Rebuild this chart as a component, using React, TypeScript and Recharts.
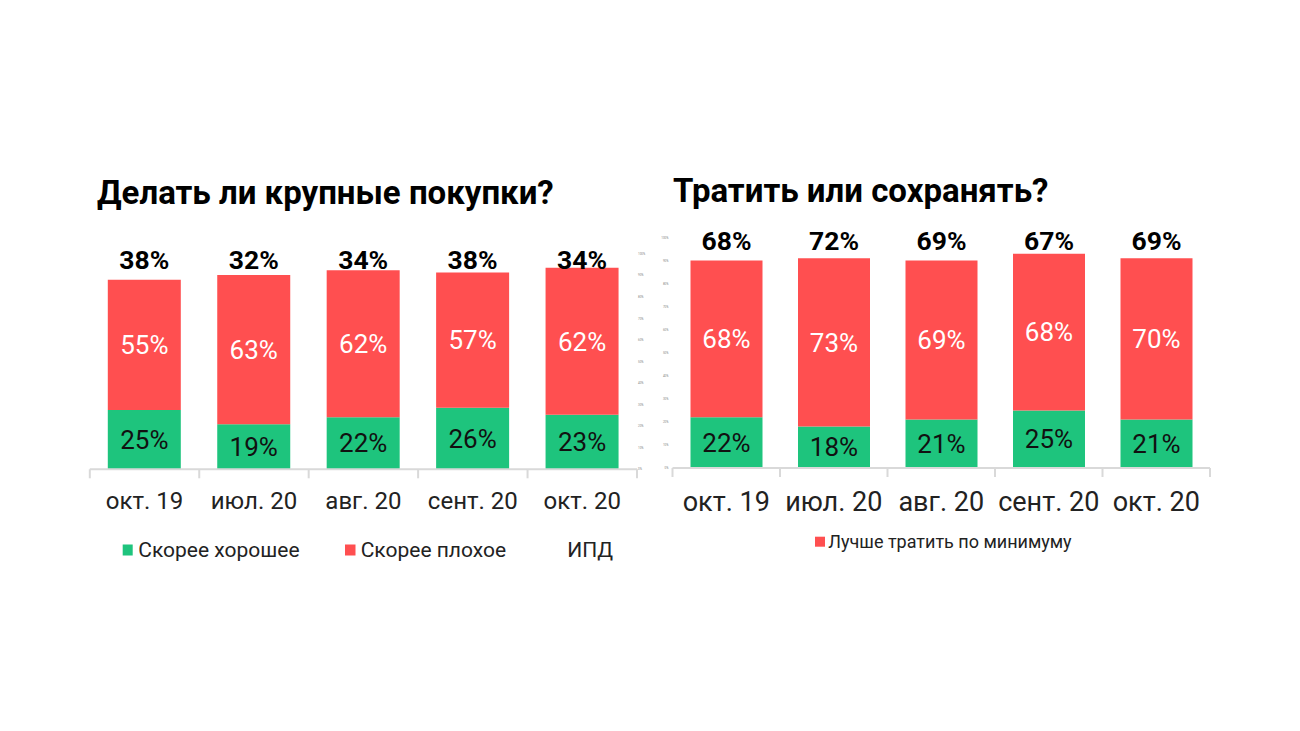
import React from 'react';
import { ComposedChart, Bar, Line, XAxis, YAxis, LabelList } from 'recharts';

const MONTHS = ['окт. 19', 'июл. 20', 'авг. 20', 'сент. 20', 'окт. 20'];

// Делать ли крупные покупки?
const BUY_GOOD = [25, 19, 22, 26, 23];
const BUY_BAD = [55, 63, 62, 57, 62];
const BUY_IPD = [38, 32, 34, 38, 34];

// Тратить или сохранять?
const SPEND_REST = [22, 18, 21, 25, 21];
const SPEND_MIN = [68, 73, 69, 68, 70];
const SPEND_TOTAL = [68, 72, 69, 67, 69];

const PCT_TICKS = [0, 10, 20, 30, 40, 50, 60, 70, 80, 90, 100];

const GREEN = '#1EC47D';
const RED = '#FF4F50';
const AXIS = '#D9D9D9';
const TEXT = '#222222';
const FONT = 'Roboto, sans-serif';

const buyData = MONTHS.map((month, i) => ({
  month,
  good: BUY_GOOD[i],
  bad: BUY_BAD[i],
  ipd: BUY_IPD[i],
}));

const spendData = MONTHS.map((month, i) => ({
  month,
  rest: SPEND_REST[i],
  min: SPEND_MIN[i],
  total: SPEND_TOTAL[i],
}));

const pct = (v: any) => `${v}%`;

// x tick with boundary tick marks between categories
const makeTick = (band: number, count: number, fontSize: number, dy: number) => (props: any) => {
  const { x, y, payload, index } = props;
  const half = band / 2;
  return (
    <g>
      <line x1={x - half} x2={x - half} y1={y} y2={y + 9} stroke={AXIS} strokeWidth={2} />
      {index === count - 1 && (
        <line x1={x + half} x2={x + half} y1={y} y2={y + 9} stroke={AXIS} strokeWidth={2} />
      )}
      <text
        x={x}
        y={y + dy}
        textAnchor="middle"
        dominantBaseline="central"
        fontSize={fontSize}
        fill={TEXT}
        fontFamily={FONT}
      >
        {payload.value}
      </text>
    </g>
  );
};

// bold label above the stack, kept at a fixed height over the baseline
const makeTopLabel = (lift: number, values: number[]) => (props: any) => {
  const vb = props.viewBox ?? props;
  const { x, y, width, height } = vb;
  const value = props.value ?? values[props.index];
  return (
    <text
      x={x + width / 2}
      y={y + height - lift}
      textAnchor="middle"
      dominantBaseline="central"
      fontSize={26.5}
      fontWeight={700}
      fill="#000"
      fontFamily={FONT}
    >
      {value}%
    </text>
  );
};

const tinyTick = { fontSize: 3, fill: '#888', fontFamily: FONT };

function BuyChart() {
  return (
    <ComposedChart
      width={660}
      height={600}
      data={buyData}
      margin={{ top: 232.3, left: 89.8, right: 3, bottom: 70.7 }}
    >
      <XAxis
        dataKey="month"
        height={60}
        axisLine={{ stroke: AXIS, strokeWidth: 2 }}
        tickLine={false}
        tickSize={0}
        tickMargin={0}
        interval={0}
        tick={makeTick(547.2 / 5, MONTHS.length, 24, 31.7)}
      />
      <YAxis hide domain={[0, 100]} />
      <YAxis
        yAxisId="ipd"
        orientation="right"
        domain={[0, 110]}
        ticks={PCT_TICKS}
        width={20}
        axisLine={false}
        tickLine={false}
        tickSize={0}
        tickMargin={1}
        tick={tinyTick}
        tickFormatter={pct}
      />
      <Bar dataKey="good" name="Скорее хорошее" stackId="a" fill={GREEN} barSize={73} isAnimationActive={false}>
        <LabelList dataKey="good" position="center" fill="#111" fontSize={26} fontFamily={FONT} formatter={pct} />
        <LabelList dataKey="ipd" content={makeTopLabel(209.8, BUY_IPD)} />
      </Bar>
      <Bar dataKey="bad" name="Скорее плохое" stackId="a" fill={RED} barSize={73} isAnimationActive={false}>
        <LabelList dataKey="bad" position="center" fill="#fff" fontSize={26} fontFamily={FONT} formatter={pct} />
      </Bar>
      <Line
        yAxisId="ipd"
        dataKey="ipd"
        name="ИПД"
        stroke="none"
        dot={false}
        activeDot={false}
        legendType="none"
        isAnimationActive={false}
      />
    </ComposedChart>
  );
}

function SpendChart() {
  return (
    <ComposedChart
      width={700}
      height={600}
      data={spendData}
      margin={{ top: 237.5, left: 52.5, right: 90, bottom: 72 }}
    >
      <XAxis
        dataKey="month"
        height={60}
        axisLine={{ stroke: AXIS, strokeWidth: 2 }}
        tickLine={false}
        tickSize={0}
        tickMargin={0}
        interval={0}
        tick={makeTick(537.5 / 5, MONTHS.length, 27, 34)}
      />
      <YAxis
        domain={[0, 100]}
        ticks={PCT_TICKS}
        width={20}
        axisLine={false}
        tickLine={false}
        tickSize={0}
        tickMargin={4}
        tick={tinyTick}
        tickFormatter={pct}
      />
      <Bar dataKey="rest" stackId="a" fill={GREEN} barSize={72} isAnimationActive={false}>
        <LabelList dataKey="rest" position="center" fill="#111" fontSize={26} fontFamily={FONT} formatter={pct} />
        <LabelList dataKey="total" content={makeTopLabel(228, SPEND_TOTAL)} />
      </Bar>
      <Bar dataKey="min" name="Лучше тратить по минимуму" stackId="a" fill={RED} barSize={72} isAnimationActive={false}>
        <LabelList dataKey="min" position="center" fill="#fff" fontSize={26} fontFamily={FONT} formatter={pct} />
      </Bar>
    </ComposedChart>
  );
}

export default function App() {
  return (
    <div
      style={{
        position: 'absolute',
        left: 0,
        top: 0,
        width: 1300,
        height: 731,
        background: '#fff',
        fontFamily: FONT,
        overflow: 'hidden',
      }}
    >
      {/* titles and legends */}
      <svg width={1300} height={731} style={{ position: 'absolute', left: 0, top: 0 }}>
        <text x={97} y={204} fontSize={33} fontWeight={700} fill="#000" fontFamily={FONT}>
          Делать ли крупные покупки?
        </text>
        <text x={673} y={202} fontSize={33} fontWeight={700} fill="#000" fontFamily={FONT}>
          Тратить или сохранять?
        </text>

        <rect x={122.7} y={544.5} width={10} height={11} fill={GREEN} />
        <text x={138.3} y={550} dominantBaseline="central" fontSize={21} fill={TEXT} fontFamily={FONT}>
          Скорее хорошее
        </text>
        <rect x={345} y={544.5} width={10.5} height={11} fill={RED} />
        <text x={360.7} y={550} dominantBaseline="central" fontSize={21} fill={TEXT} fontFamily={FONT}>
          Скорее плохое
        </text>
        <text x={567.3} y={550} dominantBaseline="central" fontSize={21} fill={TEXT} fontFamily={FONT}>
          ИПД
        </text>

        <rect x={815} y={536.7} width={10} height={10} fill={RED} />
        <text x={828.3} y={541.5} dominantBaseline="central" fontSize={18} fill={TEXT} fontFamily={FONT}>
          Лучше тратить по минимуму
        </text>
      </svg>

      <div style={{ position: 'absolute', left: 0, top: 0 }}>
        <BuyChart />
      </div>
      <div style={{ position: 'absolute', left: 600, top: 0 }}>
        <SpendChart />
      </div>
    </div>
  );
}
